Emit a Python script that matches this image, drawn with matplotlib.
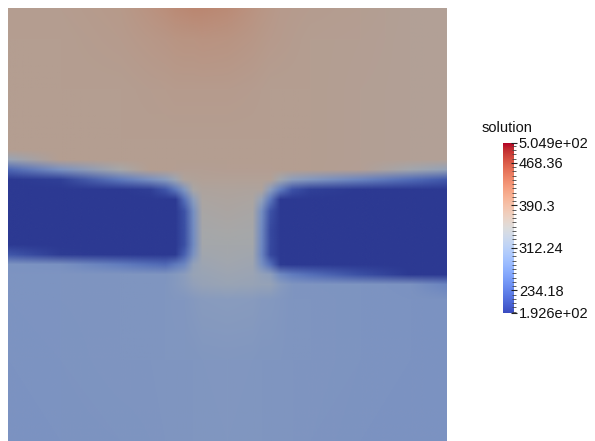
import numpy as np
import matplotlib
matplotlib.use("Agg")
import matplotlib.pyplot as plt
from matplotlib.image import NonUniformImage
from matplotlib.colors import ListedColormap, Normalize

# ---------------- data ----------------
vmin, vmax = 192.6, 504.9
title = "solution"
major_ticks = [192.6, 234.18, 312.24, 390.3, 468.36, 504.9]
major_labels = ["1.926e+02", "234.18", "312.24", "390.3", "468.36", "5.049e+02"]
minor_step = 7.806

# sample positions (image pixels) of the field grid
col_x = [8, 60, 120, 150, 165, 175, 184, 193, 202, 227, 252, 261, 270, 280, 292, 310, 360, 410, 446]
row_y = [9, 40, 90, 140, 150, 160, 170, 180, 190, 200, 212, 230, 245, 255, 265, 275, 285, 300, 360, 441]

# field values, one list per column (top -> bottom)
c008 = [372, 372, 372, 372, 372, 327, 237, 192.6, 192.6, 192.6, 192.6, 192.6, 192.6, 220, 292, 292, 292, 292, 291, 290]
c060 = [374, 373, 372, 372, 372, 372, 289, 199, 192.6, 192.6, 192.6, 192.6, 192.6, 196, 287, 293, 293, 293, 292, 291]
c120 = [380, 377, 373, 372, 372, 372, 348, 258, 192.6, 192.6, 192.6, 192.6, 192.6, 192.6, 260, 294, 294, 294, 294, 292]
c150 = [390, 382, 375, 372, 372, 372, 372, 288, 198, 192.6, 192.6, 192.6, 192.6, 192.6, 246, 294, 295, 295, 295, 293]
c165 = [396, 385, 376, 372, 372, 372, 372, 307, 220, 192.6, 192.6, 192.6, 192.6, 192.6, 239, 294, 296, 296, 296, 294]
c175 = [400, 387, 377, 372, 372, 372, 371, 334, 256, 193, 192.6, 192.6, 192.6, 194, 258, 300, 302, 298, 296, 295]
c184 = [403, 388, 377, 372, 372, 372, 370, 362, 297, 247, 216, 214, 214, 231, 274, 310, 308, 298, 296, 295]
c193 = [405, 389, 378, 372, 372, 372, 370, 364, 352, 309, 285, 281, 279, 289, 320, 325, 318, 302, 296, 296]
c202 = [405, 390, 378, 372, 372, 372, 370, 366, 360, 356, 352, 347, 343, 340, 334, 328, 324, 305, 297, 296]
c227 = [400, 388, 377, 372, 372, 372, 371, 367, 362, 358, 354, 349, 345, 342, 338, 333, 328, 307, 298, 297]
c252 = [390, 383, 375, 372, 372, 372, 371, 366, 360, 356, 352, 347, 343, 340, 335, 330, 325, 305, 297, 296]
c261 = [386, 381, 374, 372, 372, 372, 371, 366, 360, 320, 285, 277, 275, 273, 286, 319, 322, 302, 296, 296]
c270 = [382, 379, 373, 372, 372, 372, 371, 366, 310, 255, 216, 208, 208, 207, 245, 311, 322, 300, 296, 295]
c280 = [379, 377, 373, 372, 372, 372, 372, 339, 260, 193, 192.6, 192.6, 192.6, 192.6, 194, 276, 305, 298, 296, 295]
c292 = [377, 375, 372, 372, 372, 372, 372, 313, 216, 192.6, 192.6, 192.6, 192.6, 192.6, 192.6, 259, 294, 295, 295, 294]
c310 = [375, 373, 372, 372, 372, 372, 372, 299, 199, 192.6, 192.6, 192.6, 192.6, 192.6, 192.6, 245, 293, 294, 294, 293]
c360 = [372, 371, 370, 370, 370, 370, 369, 271, 192.6, 192.6, 192.6, 192.6, 192.6, 192.6, 192.6, 214, 292, 292, 292, 291]
c410 = [368, 368, 368, 368, 368, 368, 341, 242, 192.6, 192.6, 192.6, 192.6, 192.6, 192.6, 192.6, 192.6, 290, 291, 291, 290]
c446 = [366, 366, 366, 366, 366, 366, 321, 223, 192.6, 192.6, 192.6, 192.6, 192.6, 192.6, 192.6, 192.6, 270, 290, 290, 289]

columns = [c008, c060, c120, c150, c165, c175, c184, c193, c202, c227,
           c252, c261, c270, c280, c292, c310, c360, c410, c446]

# ---------------- figure ----------------
W, H, DPI = 595, 441, 100
fig = plt.figure(figsize=(W / DPI, H / DPI), dpi=DPI)
fig.patch.set_facecolor("white")

FONT = "Liberation Sans"

# field axes (pixel coordinates, height measured upward from image bottom)
x0, x1, ytop = 8, 446, 9
ax = fig.add_axes([x0 / W, 0, (x1 - x0) / W, (H - ytop) / H])
ax.set_axis_off()
ax.set_xlim(x0, x1)
ax.set_ylim(0, H - ytop)

base = plt.get_cmap("coolwarm")
shade = 0.76
cols = base(np.linspace(0, 1, 512))
cols[:, :3] *= shade
field_cmap = ListedColormap(cols)
norm = Normalize(vmin, vmax)

A = np.array(columns, dtype=float).T  # rows = y (top->bottom)
yy = H - np.array(row_y, dtype=float)  # upward coordinate
order = np.argsort(yy)
im = NonUniformImage(ax, interpolation="bilinear", cmap=field_cmap, norm=norm,
                     extent=(x0, x1, 0, H - ytop))
im.set_data(np.array(col_x, dtype=float), yy[order], A[order])
ax.add_image(im)

# colorbar
cb_left, cb_right, cb_top, cb_bot = 503, 514, 143, 313
cax = fig.add_axes([cb_left / W, (H - cb_bot) / H, (cb_right - cb_left) / W, (cb_bot - cb_top) / H])
grad = np.linspace(vmin, vmax, 256).reshape(-1, 1)
cax.imshow(grad, aspect="auto", cmap=base, norm=norm, origin="lower",
           extent=(0, 1, vmin, vmax), interpolation="bilinear")
cax.set_xlim(0, 1)
cax.set_ylim(vmin, vmax)
cax.set_xticks([])
for s in cax.spines.values():
    s.set_visible(False)
cax.yaxis.tick_right()
cax.set_yticks(major_ticks)
cax.set_yticklabels(major_labels, fontsize=10.5, family=FONT, color="#111111")
minor = []
v = major_ticks[1]
while v > vmin:
    v -= minor_step
while v + minor_step < vmax:
    v += minor_step
    minor.append(v)
cax.set_yticks(minor, minor=True)
cax.tick_params(axis="y", which="major", direction="inout", length=5, width=0.8, pad=1, colors="#222222")
cax.tick_params(axis="y", which="minor", direction="inout", length=3, width=0.6, colors="#444444")
for lab in cax.get_yticklabels():
    lab.set_color("#111111")

fig.text(482 / W, 1 - 128 / H, title, fontsize=10.5, family=FONT, va="center", ha="left", color="#111111")

fig.savefig("out.png", dpi=DPI, facecolor="white")
